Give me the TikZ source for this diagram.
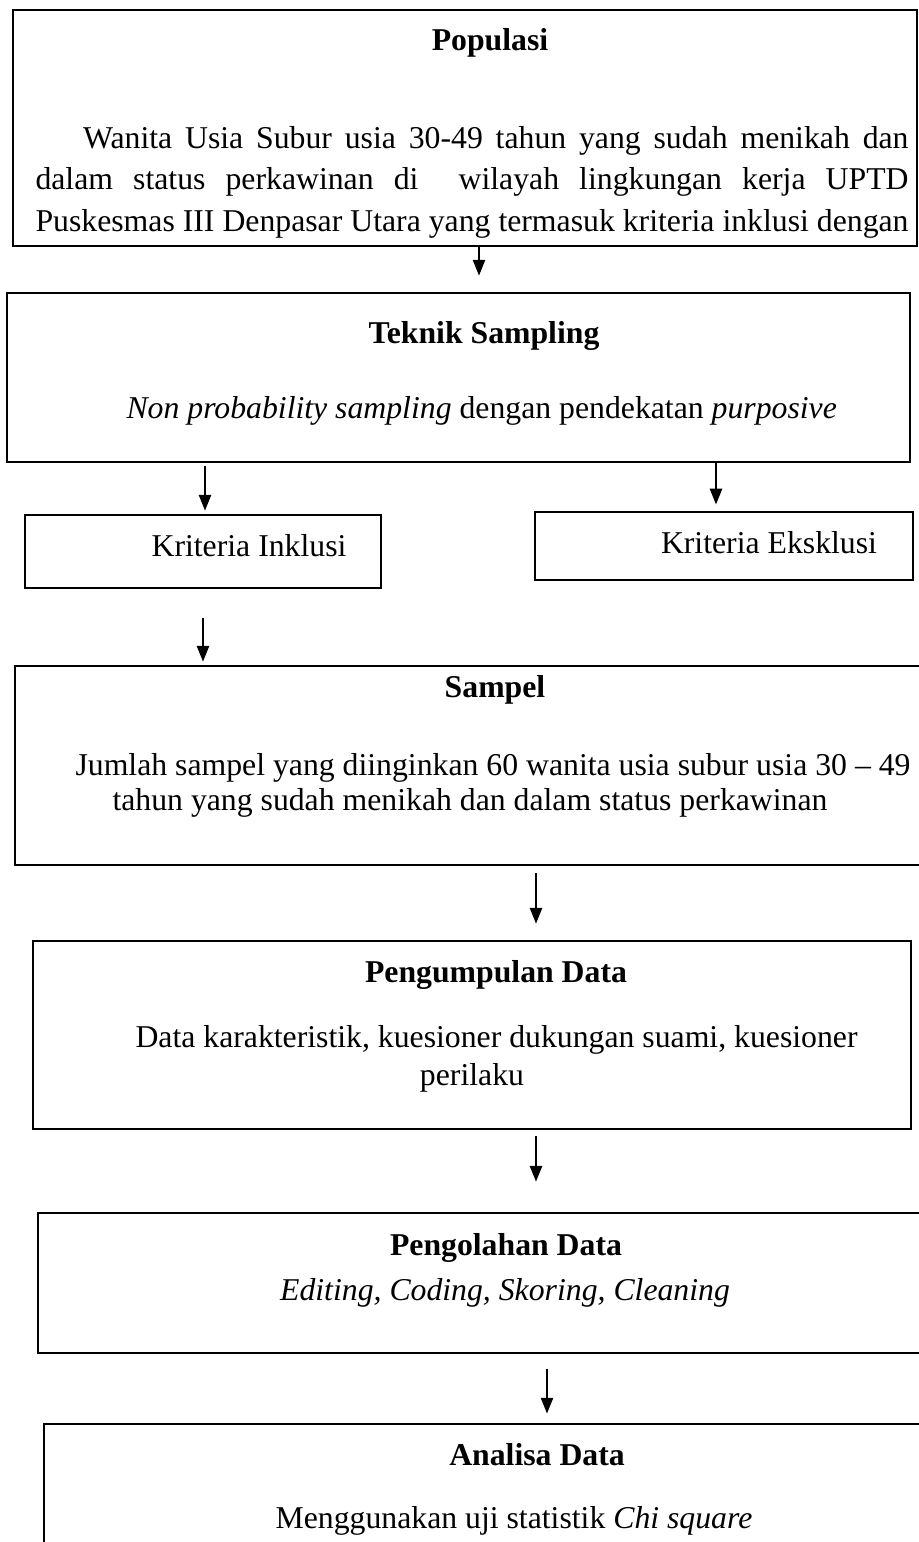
\documentclass[tikz,border=0pt]{standalone}
\usepackage{fontspec}
\setmainfont{Liberation Serif}
\usepackage{tikz}
\usetikzlibrary{arrows.meta}
\usetikzlibrary{fit}
\tikzset{kotak/.style={draw=black,line width=1pt,inner sep=0pt}}
\tikzset{panah/.style={-{Triangle[length=6pt,width=4.5pt]},line width=1pt}}
\tikzset{teks/.style={inner sep=0pt,font=\fontsize{12}{14}\selectfont}}

\begin{document}
\begin{tikzpicture}[x=0.378pt,y=-0.378pt]
\useasboundingbox (0,0) rectangle (919,1542);
\clip (0,0) rectangle (919,1542);

% kotak-kotak
\foreach \n/\xa/\ya/\xb/\yb in {pop/13/10/917/246, tek/7/293/910/462, ink/25/515/381/588, eks/535/512/913/580, sam/15/666/930/865, pgm/33/941/911/1129, olh/38/1213/930/1353, ana/44/1424/930/1560}
{
	\node[kotak, fit={(\xa,\ya) (\xb,\yb)}] (\n) {};
}

% teks
\node[teks, anchor=base] (popJ) at (490,50) {\textbf{Populasi}};
\node[teks, anchor=base west] (popA) at (35,148) {\makebox[330pt][s]{\hspace*{18pt}Wanita Usia Subur usia 30-49 tahun yang sudah menikah dan}};
\node[teks, anchor=base west] (popB) at (35,189) {\makebox[330pt][s]{dalam status perkawinan di \ wilayah lingkungan kerja UPTD}};
\node[teks, anchor=base west] (popC) at (35,231) {\makebox[330pt][s]{Puskesmas III Denpasar Utara yang termasuk kriteria inklusi dengan}};

\node[teks, anchor=base] (tekJ) at (484,343) {\textbf{Teknik Sampling}};
\node[teks, anchor=base west] (tekA) at (126,418) {\textit{Non probability sampling} dengan pendekatan \textit{purposive}};

\node[teks, anchor=base] (inkA) at (249,556) {Kriteria Inklusi};
\node[teks, anchor=base] (eksA) at (769,553) {Kriteria Eksklusi};

\node[teks, anchor=base] (samJ) at (495,697) {\textbf{Sampel}};
\node[teks, anchor=base west] (samA) at (75,775) {Jumlah sampel yang diinginkan 60 wanita usia subur usia 30 -- 49};
\node[teks, anchor=base west] (samB) at (112,810) {tahun yang sudah menikah dan dalam status perkawinan};

\node[teks, anchor=base] (pgmJ) at (496,982) {\textbf{Pengumpulan Data}};
\node[teks, anchor=base west] (pgmA) at (135,1047) {Data karakteristik, kuesioner dukungan suami, kuesioner};
\node[teks, anchor=base] (pgmB) at (472,1085) {perilaku};

\node[teks, anchor=base] (olhJ) at (506,1255) {\textbf{Pengolahan Data}};
\node[teks, anchor=base] (olhA) at (505,1300) {\textit{Editing, Coding, Skoring, Cleaning}};

\node[teks, anchor=base] (anaJ) at (537,1465) {\textbf{Analisa Data}};
\node[teks, anchor=base] (anaA) at (514,1528) {Menggunakan uji statistik \textit{Chi square}};

% panah
\foreach \a/\b/\x/\s/\e [count=\i] in {pop/tek/479/0pt/6pt, tek/ink/205/1.1pt/1.1pt, tek/eks/716/0pt/2.3pt, ink/sam/203/11pt/1.1pt, sam/pgm/536/2.6pt/6pt, pgm/olh/536/2.3pt/11.3pt, olh/ana/547/5.7pt/3.4pt}
{
	\coordinate (k\i) at (\x,0);
	\draw[panah, shorten <=\s, shorten >=\e] (\a.south -| k\i) -- (\b.north -| k\i);
}
\end{tikzpicture}
\end{document}
